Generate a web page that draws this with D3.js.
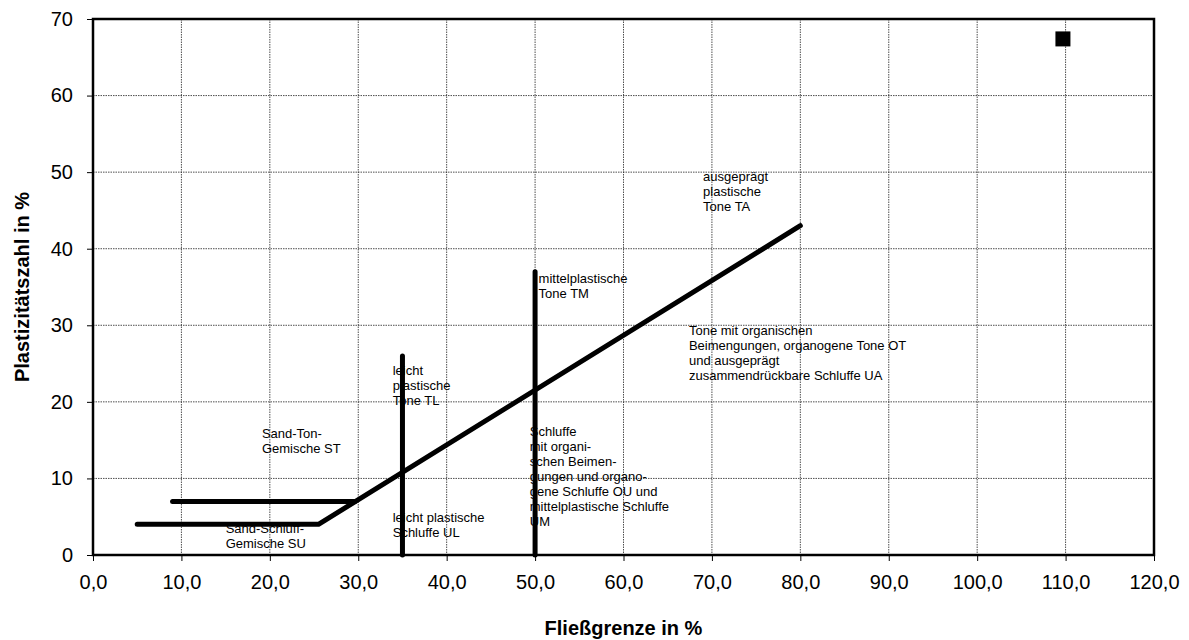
<!DOCTYPE html>
<html>
<head>
<meta charset="utf-8">
<script src="https://cdn.jsdelivr.net/npm/d3@7"></script>
<style>
  body { margin: 0; background: #fff; }
  svg { display: block; font-family: "Liberation Sans", Arial, sans-serif; }
</style>
</head>
<body>
<svg id="chart" width="1189" height="640"></svg>
<script>
const MARGIN = { top: 19, right: 35, bottom: 85, left: 93 };
const WIDTH = 1189, HEIGHT = 640;

const xTicks = [0, 10, 20, 30, 40, 50, 60, 70, 80, 90, 100, 110, 120];
const yTicks = [0, 10, 20, 30, 40, 50, 60, 70];

// boundary lines of the plasticity chart [Fließgrenze, Plastizitätszahl]
const aLine = [[5, 4], [25.5, 4], [80, 43]];
const stLine = [[9, 7], [29.6, 7]];
const tlLine = [[35, 0], [35, 26]];
const tmLine = [[50, 0], [50, 37]];

// sample point
const samples = [[109.7, 67.4]];

// zone labels: anchor [x, y] in data units, lines of text
const zoneX = [19.1, 15.0, 33.9, 33.9, 50.4, 49.4, 69.0, 67.4];
const zoneY = [15.9, 3.5, 24.1, 4.9, 36.1, 16.2, 49.4, 29.3];
const zoneText = [
  ["Sand-Ton-", "Gemische ST"],
  ["Sand-Schluff-", "Gemische SU"],
  ["leicht", "plastische", "Tone TL"],
  ["leicht plastische", "Schluffe UL"],
  ["mittelplastische", "Tone TM"],
  ["Schluffe", "mit organi-", "schen Beimen-", "gungen und organo-", "gene Schluffe OU und", "mittelplastische Schluffe", "UM"],
  ["ausgeprägt", "plastische", "Tone TA"],
  ["Tone mit organischen", "Beimengungen, organogene Tone OT", "und ausgeprägt", "zusammendrückbare Schluffe UA"]
];

const svg = d3.select("#chart");
const width = WIDTH - MARGIN.left - MARGIN.right;
const height = HEIGHT - MARGIN.top - MARGIN.bottom;

const x = d3.scaleLinear().domain([0, 120]).range([0, width]);
const y = d3.scaleLinear().domain([0, 70]).range([height, 0]);

const g = svg.append("g")
  .attr("transform", "translate(" + MARGIN.left + "," + MARGIN.top + ")");

// grid
g.append("g")
  .selectAll("line")
  .data(xTicks.slice(1, -1))
  .enter().append("line")
  .attr("x1", d => x(d)).attr("x2", d => x(d))
  .attr("y1", 0).attr("y2", height)
  .attr("stroke", "#222").attr("stroke-width", 0.8)
  .attr("stroke-dasharray", "1.5,1");
g.append("g")
  .selectAll("line")
  .data(yTicks.slice(1, -1))
  .enter().append("line")
  .attr("y1", d => y(d)).attr("y2", d => y(d))
  .attr("x1", 0).attr("x2", width)
  .attr("stroke", "#222").attr("stroke-width", 0.8)
  .attr("stroke-dasharray", "1.5,1");

// axes
const xAxis = g.append("g")
  .attr("transform", "translate(0," + height + ")")
  .call(d3.axisBottom(x).tickValues(xTicks).tickSize(6).tickPadding(14)
    .tickFormat(d => d3.format(".1f")(d).replace(".", ",")));
const yAxis = g.append("g")
  .call(d3.axisLeft(y).tickValues(yTicks).tickSize(6).tickPadding(14));
[xAxis, yAxis].forEach(a => {
  a.select(".domain").remove();
  a.selectAll(".tick line").attr("stroke", "#000").attr("stroke-width", 1);
  a.selectAll("text")
    .style("font-family", "Liberation Sans, Arial, sans-serif")
    .style("font-size", "20px")
    .attr("fill", "#000");
});

// plot frame
g.append("rect")
  .attr("width", width).attr("height", height)
  .attr("fill", "none").attr("stroke", "#000").attr("stroke-width", 2.5);

// zone labels
zoneText.forEach((lines, i) => {
  const t = g.append("text")
    .attr("x", x(zoneX[i]))
    .attr("y", y(zoneY[i]))
    .style("font-size", "13px")
    .attr("fill", "#000");
  lines.forEach((s, j) => {
    t.append("tspan")
      .attr("x", x(zoneX[i]))
      .attr("dy", j === 0 ? "0.35em" : 15)
      .text(s);
  });
});

// boundary lines
const line = d3.line().x(d => x(d[0])).y(d => y(d[1]));
[aLine, stLine, tlLine, tmLine].forEach(pts => {
  g.append("path")
    .attr("d", line(pts))
    .attr("fill", "none")
    .attr("stroke", "#000")
    .attr("stroke-width", 5)
    .attr("stroke-linecap", "round")
    .attr("stroke-linejoin", "round");
});

// sample markers
g.selectAll("rect.sample")
  .data(samples)
  .enter().append("rect")
  .attr("class", "sample")
  .attr("x", d => x(d[0]) - 7.5)
  .attr("y", d => y(d[1]) - 7.5)
  .attr("width", 15).attr("height", 15)
  .attr("fill", "#000");

// axis titles
svg.append("text")
  .attr("x", MARGIN.left + width / 2)
  .attr("y", 628)
  .attr("text-anchor", "middle")
  .attr("dy", "0.35em")
  .style("font-size", "20px")
  .style("font-weight", "bold")
  .text("Fließgrenze in %");
svg.append("text")
  .attr("transform", "translate(22," + (MARGIN.top + height / 2) + ") rotate(-90)")
  .attr("text-anchor", "middle")
  .attr("dy", "0.35em")
  .style("font-size", "20px")
  .style("font-weight", "bold")
  .text("Plastizitätszahl in %");
</script>
</body>
</html>
